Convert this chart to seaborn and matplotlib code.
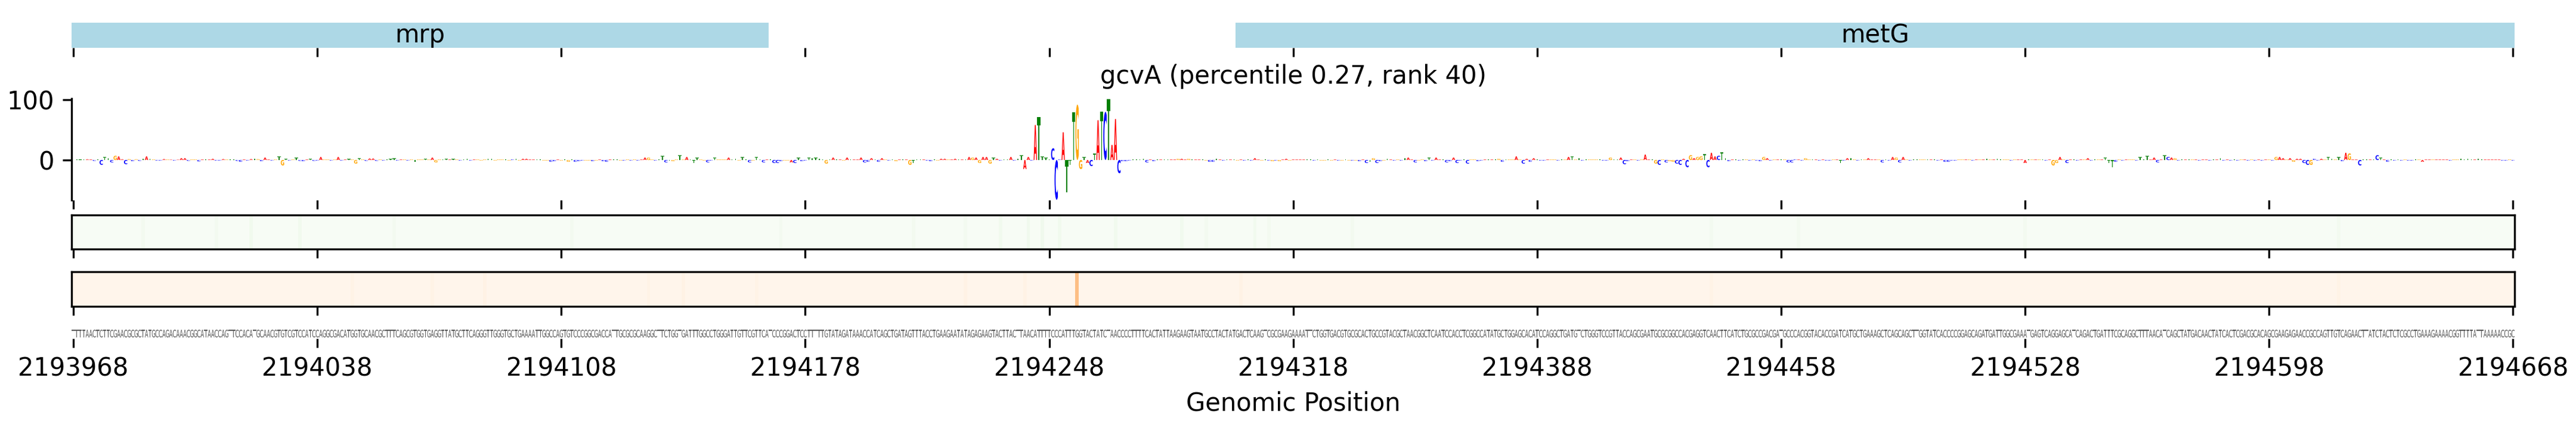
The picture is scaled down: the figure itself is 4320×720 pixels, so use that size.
import numpy as np
import pandas as pd
import matplotlib
matplotlib.use('Agg')
import matplotlib.pyplot as plt
import seaborn as sns
from matplotlib.textpath import TextPath
from matplotlib.patches import PathPatch, Rectangle
from matplotlib.font_manager import FontProperties
from matplotlib.transforms import Affine2D

plt.rcParams['font.family'] = ['DejaVu Sans']

# --- data -------------------------------------------------------------
region_start = 2193968
region_end = 2194668
tick_step = 70

title = 'gcvA (percentile 0.27, rank 40)'

gene_names = ['mrp', 'metG']
gene_starts = [2193000, 2194302]
gene_ends = [2194167, 2196500]

# sequence, read in six pieces (start position of each piece given)
seq_starts = [0, 116, 234, 351, 467, 585]
seq_1 = 'TTTTAACTCTTCGAACGCGCTATGCCAGACAAACGGCATAACCAGTTCCACATGCAACGTGTCGTCCATCCAGGCGACATGGTGCAACGCTTTCAGCGTGGTGAGGTTATGCTTCA'
seq_2 = 'GGGTTGGGTGCTGAAAATTGGCCAGTGTCCCGGCGACCATTGCGCGCAAGGCTTCTGGTGATTTGGCCTGGGATTGTTCGTTCATCCCGGACTCCTTTTTGTATAGATAAACCATCAG'
seq_3 = 'CTGATAGTTTACCTGAAGAATATAGAGAAGTACTTACTTAACATTTTCCCATTTGGTACTATCTAACCCCTTTTCACTATTAAGAAGTAATGCCTACTATGACTCAAGTCGCGAAGA'
seq_4 = 'AAATTCTGGTGACGTGCGCACTGCCGTACGCTAACGGCTCAATCCACCTCGGCCATATGCTGGAGCACATCCAGGCTGATGTCTGGGTCCGTTACCAGCGAATGCGCGGCCACGAG'
seq_5 = 'GTCAACTTCATCTGCGCCGACGATGCCCACGGTACACCGATCATGCTGAAAGCTCAGCAGCTTGGTATCACCCCGGAGCAGATGATTGGCGAAATGAGTCAGGAGCATCAGACTGATT'
seq_6 = 'TCGCAGGCTTTAACATCAGCTATGACAACTATCACTCGACGCACAGCGAAGAGAACCGCCAGTTGTCAGAACTTATCTACTCTCGCCTGAAAGAAAACGGTTTTATTAAAAACCGC'

# attribution per base (logo heights), same pieces
attr_1 = [0.4, 0.6, 0.5, 0.8, 1.2, 1.0, -1.5, 1.2, -8, 5,
          3, -4, 7, 6, 1.2, -7, 1.5, -2, 1.2, -1.5,
          2, 6, 2, 1, -1, -1, 1.5, 1, 0.6, -1,
          0.6, 3, 3, -1.5, 1, 1, -2.5, 1, 0.6, 1,
          2, -1, -1, 1.5, 1, 1, 0.6, -1.5, -3, 1,
          -1, 1.5, 2, 1.5, -2, 4, 1, -1, 1, 6,
          -9, 1.5, -1, 1, 4, -1.5, -2, 1, 1.5, -1.5,
          -1, 5, 1, 1, -1, 1, 5, -1, 1, 1.5,
          1, -6, 2.5, 1, -1.5, 2.5, 2.5, -1.5, 1, -1,
          1, 1.5, 2.5, -1, 1, 1, -1, 1, -3, 1,
          1, 1.5, 1, 4, -4, 1, 1, 1.5, 1, 1.5,
          1, -1, 1, 2, -1, 1]
attr_2 = [1, -1, 1, 2, 2, -1, 1, 1, 1, -1,
          1, 2, -1, 2, 2, 1, 1, 1, 1, -1,
          -1, -3, -2, 1, -1, 1, -3, 1, -3, -2,
          -1, -1, -1, -2, -1, 1, -2, -3, 1, 1,
          1, -1, -1, 1, -1, 1, -1, 1, 4, 4,
          1, -1, 1, 7, -4, -1, -2, 1, 8, 1,
          5, 1, -5, 4, 1, -1, -4, -1, 4, 1,
          1, 1, 4, 1, 2, -1, 5, 1, -4, -1,
          5, 1, -4, 1, 1, -5, -5, -2, -1, -1,
          -4, -5, 4, -2, -1, 4, 3, 4, 2, 1,
          -6, 1, 4, 1, 1, -1, 4, 1, 1, 1,
          4, -4, -3, 3, 1, -3, 3, 1]
attr_3 = [-1, 1, -2, 1, 1, 1, -8, -5, 1, 1,
          1, -1, -2, 1, -1, 2, 2, 1, 1, 2,
          1, 1, 1, 5, 4, 4, -5, 5, 5, -6,
          4, 2, -1, 1, 1, 5, -1, 2, 8, -15,
          5, -1, 58, 71, 6, 4, 1, 19.5, -66, 1,
          46, -54, -8, 79, 92, -15, 5, -5, -10, 11,
          66, 80, 80, 101, 25, 68, -22, -2, -2, -1,
          1, 1, 1, 2, -4, 1, -2, 1, 1, 1,
          1, 1, 1, 2, 2, 1, 2, 1, 1, 1,
          1, -1, -3, -3, 2, 1, -1, 1, 1, 1,
          -1, 1, -1, 1, -1, 3, 1, -1, 1, -1,
          -2, -1, -2, 1, 2, -1, 1]
attr_4 = [1, 1, 1, 1, 1, -1, 1, -1, -1, 1,
          -1, 1, -1, -1, 1, -1, -1, -1, -2, 1,
          -5, -3, 3, -5, -2, -1, 2, 1, -1, 1,
          -1, 3, 4, 1, -4, -1, 1, -2, 4, -1,
          4, 1, 1, -4, -2, 4, -5, -1, 1, -6,
          1, 1, -2, -1, 1, 1, 1, 1, 2, -3,
          1, 1, 1, 6, 1, -6, 2, -3, 3, 1,
          -1, -1, 1, 1, 1, -1, 1, 1, 5, 6,
          1, 3, -1, 1, 1, 1, 1, 1, -1, -1,
          4, 1, 1, 4, -7, -2, 1, 1, -1, 1,
          9, 1, 1, -6, -8, 1, -4, -2, -3, -6,
          -8, 2, -12, 8, 3, 5]
attr_5 = [6, 10, -12, 12, 6, 7, 13, 3, -2, 1,
          1, -1, 1, 1, -1, 1, -1, -2, 5, 3,
          -1, 1, 1, 1, 1, -4, -4, 1, 1, -1,
          3, 1, 1, 1, -1, 1, -1, -1, 1, 1,
          -5, -1, 3, 3, 1, -1, 1, 1, 3, 1,
          1, 1, -4, 1, -1, 5, 4, -4, 5, 1,
          -1, 1, 1, 1, 1, 1, 1, 1, -1, 1,
          -3, -3, -1, -1, 1, 1, 1, 1, -1, 1,
          1, 1, 2, 1, 1, 2, 1, 1, 1, -1,
          1, 1, 1, -5, 1, 1, 1, 1, 1, -1,
          1, -9, -5, 5, 1, -5, 1, 1, -1, 1,
          1, 3, -1, 1, 1, 1, 4, -5]
attr_6 = [-12, -3, 1, -1, 1, 1, 1, -1, 5, 1,
          7, 1, 4, -4, 1, 8, 5, 4, 3, -1,
          1, 1, 1, 1, 1, -1, 1, 1, -1, 1,
          1, 3, -1, 1, -1, 1, -1, 1, 1, -1,
          1, -1, 1, -1, 1, 1, -1, 5, 5, 3,
          1, 3, -3, 2, 2, -5, -8, -8, 2, -1,
          2, 1, 5, 2, 1, 5, -2, 12, 11, 1,
          1, -9, 1, 1, 1, 1, 8, 4, 1, -3,
          1, -1, 1, -1, 1, -1, -1, 1, 1, -3,
          1, 1, 1, 1, 1, 1, 1, -1, 1, 1,
          2, 1, 2, 1, 1, 2, 1, 1, 1, 1,
          1, 1, -1, -1, 1, -1]

# two single-row tracks (value 0 except the listed positions)
green_pos = [20, 41, 51, 65, 92, 143, 203, 241, 256, 266, 274, 278, 283,
             299, 318, 325, 339, 343, 367, 470, 495, 560, 650]
green_val = [0.03, 0.03, 0.04, 0.04, 0.03, 0.03, 0.03, 0.03, 0.03, 0.04,
             0.05, 0.05, 0.04, 0.04, 0.04, 0.03, 0.04, 0.03, 0.03, 0.03,
             0.03, 0.03, 0.03]
orange_pos = [80, 103, 118, 165, 175, 196, 256, 273, 288, 335, 470, 650]
orange_val = [0.02, 0.02, 0.03, 0.02, 0.03, 0.02, 0.03, 0.03, 0.32, 0.03,
              0.02, 0.02]

base_colors = {'A': '#ff0000', 'C': '#0000ff', 'G': '#ffa500', 'T': '#008000'}

# --- helpers ------------------------------------------------------------
n_pos = region_end - region_start + 1
xlim = (-0.5, n_pos - 0.5)
tick_pos = list(range(0, n_pos, tick_step))
tick_lab = [str(region_start + p) for p in tick_pos]

_paths = {}


def glyph(ax, ch, x, bottom, height, color, weight='bold', width=0.95):
    key = (ch, weight)
    if key not in _paths:
        prop = FontProperties(family='DejaVu Sans', weight=weight)
        _paths[key] = TextPath((0, 0), ch, size=1, prop=prop)
    path = _paths[key]
    ext = path.get_extents()
    tr = (Affine2D().translate(-ext.x0, -ext.y0)
          .scale(width / ext.width, height / ext.height)
          .translate(x - width / 2, bottom))
    ax.add_patch(PathPatch(tr.transform_path(path), fc=color, ec='none', lw=0))


seq_parts = [seq_1, seq_2, seq_3, seq_4, seq_5, seq_6]
attr_parts = [attr_1, attr_2, attr_3, attr_4, attr_5, attr_6]

W, H = 4320, 720
left = 120.1 / W
width = 4097.3 / W


def rect(top_px, bot_px):
    return [left, 1 - bot_px / H, width, (bot_px - top_px) / H]


fig = plt.figure(figsize=(14.4, 2.4), dpi=300)

# gene track
ax_gene = fig.add_axes(rect(38, 80))
ax_gene.set_xlim(*xlim)
ax_gene.set_ylim(0, 1)
for name, gs, ge in zip(gene_names, gene_starts, gene_ends):
    x0 = gs - region_start - 0.5
    x1 = ge - region_start + 0.5
    ax_gene.add_patch(Rectangle((x0, 0), x1 - x0, 1, fc='lightblue', ec='none'))
    vx0, vx1 = max(x0, xlim[0]), min(x1, xlim[1])
    ax_gene.text((vx0 + vx1) / 2, 0.5, name, ha='center', va='center', fontsize=10)
for sp in ax_gene.spines.values():
    sp.set_visible(False)
ax_gene.set_xticks(tick_pos)
ax_gene.set_yticks([])
ax_gene.tick_params(labelbottom=False)

# attribution logo
ax_logo = fig.add_axes(rect(165, 335))
ax_logo.set_xlim(*xlim)
ax_logo.set_ylim(-66.5, 102)
for start, s, vals in zip(seq_starts, seq_parts, attr_parts):
    for k, (ch, v) in enumerate(zip(s, vals)):
        if v == 0:
            continue
        glyph(ax_logo, ch, start + k, min(v, 0), abs(v), base_colors[ch])
for side in ['top', 'right', 'bottom']:
    ax_logo.spines[side].set_visible(False)
ax_logo.set_xticks(tick_pos)
ax_logo.tick_params(labelbottom=False)
ax_logo.set_yticks([0, 100])
ax_logo.set_title(title, fontsize=10)

# heat rows
for (top_px, bot_px), pos, val, cmap in [((360, 417), green_pos, green_val, 'Greens'),
                                         ((455, 513), orange_pos, orange_val, 'Oranges')]:
    row = np.zeros(n_pos)
    row[pos] = val
    ax_h = fig.add_axes(rect(top_px, bot_px))
    sns.heatmap(pd.DataFrame([row]), ax=ax_h, cmap=cmap, vmin=0, vmax=1,
                cbar=False, xticklabels=False, yticklabels=False)
    ax_h.set_xlim(0, n_pos)
    for sp in ax_h.spines.values():
        sp.set_visible(True)
        sp.set_color('black')
        sp.set_linewidth(0.8)
    ax_h.set_xticks([p + 0.5 for p in tick_pos])
    ax_h.set_yticks([])
    ax_h.tick_params(bottom=True, labelbottom=False, left=False)

# sequence track
ax_seq = fig.add_axes(rect(549, 567))
ax_seq.set_xlim(*xlim)
ax_seq.set_ylim(0, 1)
for start, s in zip(seq_starts, seq_parts):
    for k, ch in enumerate(s):
        glyph(ax_seq, ch, start + k, 0.11, 0.72, '#5a5a5a', weight='normal')
for sp in ax_seq.spines.values():
    sp.set_visible(False)
ax_seq.set_yticks([])
ax_seq.set_xticks(tick_pos)
ax_seq.set_xticklabels(tick_lab, fontsize=10)
ax_seq.set_xlabel('Genomic Position', fontsize=10)

fig.savefig('out.png', dpi=300)
